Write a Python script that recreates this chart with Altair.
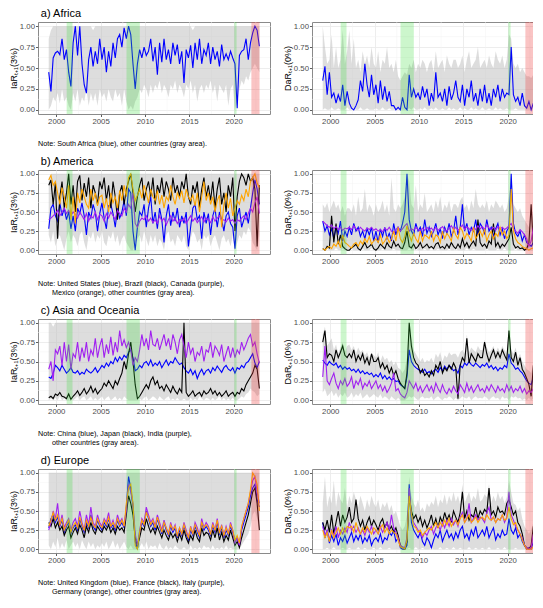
import altair as alt
import pandas as pd

FONT = "Liberation Sans, Arial, Helvetica, sans-serif"

# quarterly sampling, values in percent
T0 = 1999.15
STEP = 0.25

X_TICKS = [2000, 2005, 2010, 2015, 2020]
X_MINOR = [2002.5, 2007.5, 2012.5, 2017.5, 2022.5]
Y_TICKS = [0, 0.25, 0.5, 0.75, 1]
Y_MINOR = [0.125, 0.375, 0.625, 0.875]

GREEN_START = [2001.17, 2007.92, 2020.08]
GREEN_END = [2001.83, 2009.42, 2020.33]
RED_START = [2022.0]
RED_END = [2022.92]

# ---------------- Africa ----------------
AF_IAR_ZA = [
    45, 22, 62, 68, 70, 66, 85, 60, 72, 45, 28, 80,
    100, 65, 100, 55, 30, 20, 60, 75, 52, 70, 55, 85,
    60, 75, 45, 70, 52, 80, 62, 85, 90, 75, 98, 85,
    100, 90, 55, 25, 55, 72, 62, 75, 65, 70, 85, 58,
    75, 42, 80, 57, 85, 60, 72, 55, 80, 65, 78, 55,
    70, 32, 72, 62, 77, 50, 80, 60, 85, 55, 72, 65,
    80, 55, 75, 60, 70, 52, 78, 60, 67, 60, 70, 62,
    55, 2, 65, 70, 72, 85, 60, 80, 92, 100, 95, 76,
]
AF_IAR_LO = [
    0, 5, 15, 10, 20, 8, 25, 10, 15, 5, 0, 20,
    10, 25, 5, 15, 10, 25, 5, 20, 10, 20, 5, 25,
    15, 20, 10, 25, 15, 10, 25, 15, 20, 5, 25, 10,
    0, 5, 0, 10, 15, 25, 20, 30, 25, 15, 30, 20,
    30, 25, 35, 20, 30, 25, 15, 30, 25, 35, 20, 30,
    25, 15, 30, 25, 35, 20, 30, 10, 25, 30, 20, 30,
    25, 35, 20, 30, 10, 30, 25, 20, 30, 5, 25, 30,
    0, 10, 25, 35, 30, 40, 35, 45, 50, 55, 50, 45,
]
AF_IAR_HI = [
    85, 95, 100, 100, 100, 100, 100, 100, 100, 100, 100, 100,
    100, 100, 100, 100, 100, 100, 100, 100, 95, 100, 100, 100,
    100, 100, 100, 100, 100, 100, 100, 100, 100, 100, 100, 100,
    100, 100, 100, 100, 100, 100, 100, 100, 100, 100, 100, 100,
    100, 100, 100, 100, 100, 100, 100, 100, 100, 100, 100, 100,
    100, 100, 100, 100, 100, 95, 100, 100, 100, 100, 100, 100,
    100, 100, 100, 100, 100, 100, 100, 100, 100, 100, 100, 100,
    100, 100, 100, 100, 100, 100, 100, 100, 100, 100, 100, 100,
]
AF_DAR_ZA = [
    35, 52, 18, 45, 15, 20, 8, 18, 10, 30, 5, 22,
    8, 2, 0, 5, 12, 35, 22, 55, 30, 15, 42, 18,
    30, 8, 35, 12, 28, 10, 22, 5, 5, 0, 3, 0,
    15, 3, 0, 42, 15, 25, 15, 20, 12, 28, 15, 25,
    5, 20, 10, 45, 15, 20, 10, 25, 5, 28, 12, 20,
    35, 15, 10, 30, 5, 25, 15, 35, 10, 20, 5, 25,
    10, 30, 8, 20, 5, 25, 15, 30, 10, 25, 15, 20,
    18, 75, 18, 10, 15, 5, 20, 5, 2, 10, 0, 8,
]
AF_DAR_LO = [
    0, 2, 0, 0, 3, 0, 0, 2, 0, 0, 0, 3,
    0, 0, 2, 0, 0, 3, 0, 0, 2, 0, 0, 0,
    2, 0, 0, 3, 0, 0, 2, 0, 0, 0, 0, 0,
    0, 0, 0, 2, 0, 3, 0, 0, 2, 0, 3, 0,
    0, 2, 0, 3, 0, 0, 2, 0, 0, 3, 0, 2,
    0, 0, 3, 0, 2, 0, 0, 3, 0, 2, 0, 0,
    3, 0, 0, 2, 0, 0, 3, 0, 2, 0, 0, 2,
    0, 0, 0, 2, 0, 0, 0, 0, 0, 0, 0, 0,
]
AF_DAR_HI = [
    100, 75, 55, 60, 90, 50, 75, 50, 60, 95, 55, 70,
    95, 55, 85, 50, 60, 45, 70, 55, 65, 50, 75, 55,
    50, 70, 45, 60, 55, 75, 50, 55, 45, 60, 40, 35,
    40, 45, 42, 55, 50, 60, 45, 55, 50, 60, 55, 45,
    55, 60, 45, 70, 50, 55, 60, 45, 65, 55, 50, 60,
    60, 50, 55, 65, 45, 60, 70, 50, 55, 60, 75, 50,
    55, 60, 50, 65, 55, 50, 70, 60, 55, 65, 50, 60,
    90, 85, 55, 50, 55, 45, 50, 45, 40, 40, 38, 42,
]

# ---------------- America ----------------
AM_IAR_US = [
    28, 55, 60, 45, 38, 62, 45, 55, 40, 50, 28, 45,
    25, 55, 48, 62, 45, 20, 50, 42, 60, 50, 25, 48,
    62, 42, 28, 58, 60, 48, 30, 55, 42, 50, 65, 45,
    80, 75, 25, 0, 30, 50, 45, 60, 30, 55, 70, 35,
    50, 28, 55, 40, 10, 45, 60, 32, 50, 38, 55, 30,
    45, 35, 50, 5, 30, 55, 60, 40, 45, 15, 50, 35,
    48, 20, 45, 55, 30, 50, 40, 25, 45, 50, 35, 30,
    2, 45, 55, 30, 40, 50, 35, 55, 75, 92, 80, 60,
]
AM_IAR_BR = [
    85, 92, 60, 88, 15, 70, 90, 55, 75, 100, 60, 85,
    50, 90, 98, 65, 88, 70, 95, 55, 85, 75, 60, 90,
    80, 95, 65, 85, 55, 90, 70, 40, 75, 85, 60, 80,
    90, 100, 75, 50, 70, 85, 95, 65, 80, 90, 70, 95,
    60, 85, 75, 95, 70, 90, 80, 65, 95, 75, 85, 70,
    90, 80, 100, 70, 60, 85, 75, 90, 55, 80, 95, 70,
    85, 65, 90, 55, 80, 95, 60, 75, 50, 85, 70, 95,
    25, 70, 90, 100, 95, 85, 100, 90, 95, 80, 5, 85,
]
AM_IAR_CA = [
    40, 42, 45, 48, 52, 45, 50, 55, 48, 52, 45, 50,
    47, 42, 50, 45, 40, 48, 38, 45, 42, 50, 40, 47,
    45, 38, 48, 42, 50, 45, 40, 52, 48, 45, 55, 50,
    60, 55, 75, 35, 30, 38, 42, 40, 45, 38, 42, 36,
    40, 35, 45, 38, 42, 33, 40, 45, 38, 42, 35, 40,
    38, 42, 35, 40, 45, 38, 42, 36, 40, 44, 37, 42,
    40, 36, 44, 38, 42, 45, 38, 40, 37, 42, 38, 40,
    35, 40, 38, 42, 45, 40, 48, 55, 50, 62, 70, 48,
]
AM_IAR_MX = [
    92, 98, 85, 90, 75, 60, 82, 70, 55, 85, 40, 70,
    35, 75, 62, 80, 70, 60, 55, 80, 65, 75, 58, 70,
    72, 55, 68, 50, 75, 62, 70, 55, 78, 65, 85, 70,
    95, 100, 80, 65, 72, 80, 68, 85, 75, 62, 80, 70,
    65, 78, 60, 72, 55, 70, 65, 85, 70, 60, 75, 68,
    78, 62, 80, 70, 65, 72, 58, 75, 50, 70, 90, 65,
    75, 60, 70, 50, 65, 72, 30, 60, 75, 55, 68, 45,
    55, 65, 60, 72, 65, 80, 70, 90, 95, 100, 88, 82,
]
AM_IAR_LO = [
    20, 10, 25, 5, 15, 20, 10, 0, 15, 25, 10, 20,
    15, 5, 20, 25, 10, 0, 20, 15, 25, 10, 20, 15,
    25, 10, 5, 20, 15, 25, 10, 20, 5, 15, 20, 10,
    5, 0, 0, 10, 15, 20, 10, 25, 15, 5, 20, 10,
    20, 5, 15, 10, 0, 20, 25, 10, 15, 5, 20, 15,
    10, 20, 5, 0, 15, 25, 20, 10, 15, 0, 20, 15,
    20, 5, 15, 20, 10, 0, 15, 20, 10, 15, 5, 20,
    0, 10, 20, 15, 25, 20, 30, 25, 10, 5, 0, 20,
]
AM_IAR_HI = [
    95, 100, 100, 100, 100, 100, 100, 100, 100, 100, 100, 100,
    100, 100, 100, 100, 100, 100, 100, 100, 100, 100, 100, 100,
    100, 100, 100, 100, 100, 100, 100, 100, 100, 100, 100, 100,
    100, 100, 100, 100, 100, 100, 100, 100, 100, 100, 100, 100,
    100, 100, 100, 100, 100, 100, 100, 100, 100, 100, 100, 100,
    100, 100, 100, 100, 100, 100, 100, 100, 100, 100, 100, 100,
    100, 100, 100, 100, 100, 100, 100, 100, 100, 100, 100, 100,
    100, 100, 100, 100, 100, 100, 100, 100, 100, 100, 100, 100,
]
AM_DAR_US = [
    38, 25, 32, 20, 28, 15, 30, 22, 38, 12, 25, 18,
    30, 20, 35, 25, 30, 18, 25, 15, 28, 20, 30, 12,
    25, 10, 28, 18, 30, 15, 22, 12, 35, 20, 30, 25,
    35, 50, 100, 40, 25, 20, 35, 25, 30, 18, 40, 22,
    30, 18, 25, 35, 20, 28, 15, 30, 22, 35, 18, 25,
    45, 20, 30, 60, 25, 35, 20, 30, 25, 40, 20, 35,
    30, 22, 40, 25, 30, 18, 28, 35, 20, 28, 15, 25,
    30, 100, 35, 22, 18, 25, 12, 20, 10, 8, 5, 10,
]
AM_DAR_BR = [
    2, 0, 5, 3, 45, 10, 35, 8, 20, 5, 2, 0,
    0, 3, 5, 8, 2, 0, 5, 10, 3, 5, 8, 2,
    0, 3, 8, 5, 2, 10, 5, 3, 12, 5, 8, 3,
    2, 10, 25, 5, 3, 8, 2, 5, 10, 3, 5, 8,
    3, 5, 2, 8, 10, 3, 5, 2, 8, 3, 10, 5,
    2, 8, 3, 15, 5, 10, 3, 8, 12, 5, 40, 10,
    5, 8, 3, 12, 8, 35, 5, 10, 3, 8, 5, 10,
    15, 30, 8, 3, 5, 2, 3, 0, 2, 10, 60, 5,
]
AM_DAR_CA = [
    38, 35, 32, 30, 33, 28, 31, 27, 30, 26, 29, 28,
    30, 27, 32, 28, 26, 30, 27, 25, 29, 27, 30, 26,
    28, 25, 27, 24, 29, 26, 30, 25, 22, 27, 30, 25,
    28, 32, 35, 25, 28, 26, 30, 27, 25, 29, 26, 30,
    27, 29, 25, 30, 26, 28, 31, 27, 25, 29, 32, 27,
    30, 26, 29, 33, 27, 31, 28, 26, 30, 27, 32, 28,
    31, 27, 33, 29, 27, 30, 26, 31, 28, 30, 27, 29,
    32, 35, 28, 25, 22, 27, 24, 20, 15, 5, 12, 30,
]
AM_DAR_MX = [
    2, 0, 3, 5, 2, 8, 5, 12, 3, 20, 10, 8,
    5, 3, 8, 10, 5, 12, 8, 15, 10, 18, 8, 12,
    15, 10, 20, 8, 12, 18, 10, 15, 25, 12, 30, 15,
    10, 18, 32, 20, 12, 22, 15, 10, 25, 12, 20, 18,
    15, 25, 12, 20, 18, 10, 25, 15, 22, 18, 12, 28,
    20, 15, 30, 25, 15, 22, 18, 12, 30, 15, 20, 25,
    18, 28, 12, 20, 25, 15, 22, 18, 30, 20, 25, 15,
    20, 80, 25, 15, 10, 8, 5, 3, 2, 0, 2, 3,
]
AM_DAR_LO = [
    0, 0, 2, 0, 0, 0, 3, 0, 0, 2, 0, 0,
    0, 2, 0, 0, 0, 0, 2, 0, 0, 0, 3, 0,
    0, 0, 0, 2, 0, 0, 0, 0, 2, 0, 0, 0,
    0, 0, 0, 3, 0, 0, 2, 0, 0, 0, 2, 0,
    0, 3, 0, 0, 2, 0, 0, 0, 0, 2, 0, 0,
    2, 0, 0, 0, 0, 3, 0, 0, 2, 0, 0, 0,
    0, 0, 2, 0, 0, 0, 0, 2, 0, 0, 3, 0,
    0, 0, 0, 2, 0, 0, 0, 0, 0, 0, 0, 0,
]
AM_DAR_HI = [
    60, 55, 62, 50, 58, 65, 55, 60, 50, 58, 45, 55,
    55, 50, 60, 45, 70, 50, 55, 80, 50, 60, 55, 45,
    60, 50, 55, 65, 50, 60, 45, 95, 55, 50, 60, 55,
    60, 70, 100, 90, 60, 55, 85, 50, 60, 55, 75, 50,
    55, 60, 50, 65, 55, 70, 50, 60, 55, 65, 50, 60,
    60, 55, 65, 70, 55, 60, 50, 65, 55, 80, 60, 55,
    60, 55, 65, 50, 60, 55, 65, 60, 55, 60, 50, 55,
    70, 100, 60, 55, 50, 55, 45, 40, 35, 30, 55, 40,
]

# ---------------- Asia and Oceania ----------------
AS_IAR_CN = [
    30, 28, 35, 45, 42, 38, 45, 40, 35, 38, 42, 36,
    35, 38, 33, 36, 34, 40, 37, 35, 38, 42, 36, 40,
    45, 42, 48, 44, 50, 47, 55, 50, 56, 52, 58, 55,
    62, 65, 55, 38, 40, 45, 42, 48, 50, 45, 52, 44,
    48, 45, 50, 42, 47, 52, 45, 50, 48, 55, 50, 46,
    48, 42, 38, 35, 40, 33, 38, 28, 35, 40, 33, 38,
    40, 35, 42, 38, 44, 40, 36, 42, 45, 40, 38, 42,
    35, 42, 40, 45, 42, 48, 50, 55, 60, 48, 42, 50,
]
AS_IAR_JP = [
    3, 5, 2, 8, 6, 10, 5, 4, 2, 8, 1, 5,
    8, 12, 6, 10, 15, 8, 12, 18, 10, 15, 8, 12,
    15, 22, 18, 25, 20, 15, 25, 20, 28, 35, 50, 40,
    60, 75, 50, 20, 2, 5, 10, 15, 20, 15, 25, 30,
    20, 25, 15, 18, 12, 20, 15, 10, 18, 12, 8, 15,
    10, 100, 10, 5, 8, 12, 5, 8, 10, 5, 12, 8,
    10, 15, 8, 12, 6, 10, 5, 8, 12, 5, 8, 10,
    5, 10, 8, 15, 12, 20, 25, 30, 35, 45, 40, 15,
]
AS_IAR_IN = [
    40, 50, 25, 65, 60, 70, 45, 75, 50, 72, 40, 60,
    55, 75, 50, 68, 55, 75, 50, 65, 58, 80, 55, 70,
    80, 55, 72, 60, 82, 58, 75, 62, 90, 70, 78, 68,
    75, 65, 45, 55, 50, 65, 85, 70, 80, 65, 90, 72,
    70, 80, 65, 75, 85, 70, 80, 65, 85, 75, 60, 78,
    85, 70, 55, 75, 60, 68, 50, 62, 58, 70, 50, 65,
    62, 75, 55, 70, 65, 58, 72, 50, 60, 70, 55, 68,
    55, 65, 60, 75, 65, 72, 80, 85, 70, 75, 60, 48,
]
AS_IAR_LO = [
    0, 2, 0, 3, 0, 5, 0, 2, 0, 0, 3, 0,
    2, 5, 0, 3, 5, 0, 2, 5, 0, 3, 0, 2,
    5, 0, 3, 5, 0, 2, 5, 0, 3, 0, 5, 2,
    0, 0, 0, 0, 0, 2, 0, 3, 5, 0, 2, 5,
    3, 0, 5, 2, 0, 3, 5, 0, 2, 0, 3, 0,
    0, 2, 0, 0, 3, 0, 2, 0, 5, 2, 0, 3,
    2, 0, 3, 0, 2, 5, 0, 3, 0, 2, 0, 3,
    0, 0, 2, 5, 3, 8, 10, 15, 12, 10, 5, 8,
]
AS_IAR_HI = [
    100, 100, 95, 100, 100, 100, 100, 100, 100, 100, 100, 100,
    100, 100, 100, 100, 100, 100, 100, 100, 100, 100, 100, 100,
    100, 100, 100, 100, 100, 100, 100, 100, 100, 100, 100, 100,
    100, 100, 100, 100, 100, 100, 100, 100, 100, 100, 100, 100,
    100, 100, 100, 100, 100, 100, 100, 100, 100, 100, 100, 100,
    100, 100, 100, 100, 100, 100, 100, 100, 100, 100, 100, 100,
    100, 100, 100, 100, 100, 100, 100, 100, 100, 100, 100, 100,
    100, 100, 100, 100, 100, 100, 100, 100, 100, 100, 100, 100,
]
AS_DAR_CN = [
    52, 48, 45, 50, 47, 45, 48, 42, 45, 40, 43, 40,
    42, 38, 40, 36, 40, 35, 38, 34, 36, 33, 35, 30,
    33, 30, 35, 28, 32, 27, 30, 26, 28, 24, 25, 20,
    18, 15, 30, 65, 50, 45, 42, 40, 38, 36, 40, 35,
    37, 34, 38, 40, 36, 42, 38, 44, 40, 45, 42, 38,
    40, 35, 45, 42, 48, 45, 50, 46, 44, 48, 45, 42,
    46, 44, 48, 42, 45, 40, 43, 38, 42, 40, 45, 42,
    60, 48, 45, 40, 42, 38, 35, 30, 25, 22, 20, 30,
]
AS_DAR_JP = [
    75, 90, 55, 60, 58, 50, 65, 55, 62, 70, 58, 55,
    60, 55, 65, 50, 58, 52, 60, 48, 55, 45, 60, 50,
    50, 55, 42, 48, 40, 45, 35, 42, 32, 38, 28, 22,
    18, 15, 35, 100, 70, 55, 48, 45, 35, 40, 32, 35,
    30, 38, 32, 45, 40, 50, 35, 42, 38, 45, 40, 48,
    42, 2, 45, 55, 50, 80, 48, 60, 55, 50, 60, 55,
    55, 75, 60, 50, 58, 65, 55, 62, 55, 65, 58, 52,
    90, 55, 50, 62, 45, 55, 40, 35, 28, 20, 5, 45,
]
AS_DAR_IN = [
    30, 70, 25, 20, 28, 35, 22, 15, 25, 20, 28, 18,
    22, 30, 15, 25, 20, 28, 15, 22, 18, 25, 15, 20,
    25, 15, 20, 12, 18, 10, 15, 22, 35, 12, 15, 8,
    5, 3, 10, 25, 20, 15, 22, 12, 18, 10, 15, 20,
    12, 18, 10, 22, 15, 10, 20, 12, 8, 15, 10, 18,
    12, 8, 20, 15, 10, 22, 12, 18, 10, 15, 20, 12,
    15, 10, 18, 12, 20, 15, 10, 18, 12, 15, 10, 20,
    12, 18, 10, 15, 12, 18, 10, 15, 8, 12, 10, 15,
]
AS_DAR_LO = [
    10, 15, 5, 8, 12, 5, 10, 3, 8, 5, 10, 3,
    5, 10, 3, 8, 5, 10, 2, 5, 8, 3, 5, 8,
    5, 3, 8, 2, 5, 3, 0, 5, 2, 0, 3, 0,
    0, 0, 2, 5, 3, 5, 2, 0, 3, 5, 2, 3,
    2, 5, 0, 3, 5, 2, 0, 3, 2, 5, 3, 0,
    3, 0, 2, 5, 3, 2, 5, 0, 3, 5, 2, 3,
    2, 5, 3, 0, 3, 5, 2, 3, 0, 5, 2, 3,
    0, 5, 3, 5, 2, 3, 0, 2, 0, 3, 0, 2,
]
AS_DAR_HI = [
    85, 95, 70, 75, 80, 65, 72, 60, 68, 75, 62, 70,
    72, 65, 70, 60, 68, 62, 65, 58, 62, 55, 60, 58,
    55, 62, 50, 58, 52, 55, 48, 52, 45, 50, 42, 40,
    35, 40, 55, 100, 80, 65, 60, 55, 50, 55, 48, 52,
    50, 55, 48, 60, 55, 62, 50, 58, 55, 62, 58, 60,
    60, 55, 62, 65, 60, 85, 62, 68, 65, 62, 70, 65,
    65, 78, 68, 62, 65, 70, 62, 68, 62, 70, 65, 60,
    95, 65, 60, 68, 55, 60, 50, 45, 40, 38, 35, 45,
]

# ---------------- Europe ----------------
EU_IAR_UK = [
    28, 40, 45, 35, 42, 30, 38, 22, 30, 35, 20, 28,
    32, 25, 40, 30, 22, 35, 28, 45, 30, 25, 38, 30,
    25, 35, 30, 40, 28, 32, 25, 38, 30, 35, 28, 55,
    95, 80, 55, 10, 0, 20, 35, 30, 50, 40, 30, 35,
    25, 40, 30, 20, 35, 25, 18, 30, 22, 28, 15, 25,
    18, 30, 20, 12, 25, 18, 30, 22, 15, 35, 25, 30,
    25, 18, 30, 22, 35, 20, 28, 15, 25, 18, 30, 22,
    10, 15, 5, 25, 35, 45, 55, 70, 80, 85, 65, 55,
]
EU_IAR_FR = [
    35, 30, 40, 28, 35, 25, 30, 18, 25, 30, 15, 22,
    28, 20, 32, 25, 15, 30, 22, 35, 25, 20, 30, 25,
    22, 30, 25, 32, 22, 28, 20, 30, 25, 28, 22, 45,
    70, 60, 45, 15, 5, 15, 28, 25, 40, 30, 22, 28,
    20, 30, 22, 15, 25, 18, 12, 22, 15, 20, 10, 20,
    12, 25, 15, 8, 18, 12, 25, 15, 10, 28, 18, 22,
    20, 12, 25, 15, 28, 12, 22, 10, 18, 12, 25, 15,
    5, 10, 2, 15, 25, 35, 45, 60, 75, 80, 60, 25,
]
EU_IAR_IT = [
    25, 35, 50, 40, 60, 30, 45, 28, 35, 40, 25, 35,
    40, 30, 50, 35, 25, 45, 32, 55, 35, 30, 45, 35,
    30, 40, 35, 48, 30, 38, 28, 45, 35, 40, 30, 50,
    85, 75, 60, 20, 5, 25, 40, 35, 55, 45, 35, 40,
    30, 45, 35, 25, 38, 28, 20, 35, 25, 32, 18, 28,
    20, 35, 25, 15, 30, 20, 35, 28, 18, 40, 28, 35,
    30, 20, 35, 25, 40, 22, 32, 18, 30, 20, 35, 25,
    8, 15, 5, 28, 40, 50, 60, 75, 90, 95, 75, 60,
]
EU_IAR_DE = [
    30, 38, 48, 38, 45, 32, 40, 25, 32, 38, 22, 30,
    35, 28, 42, 32, 25, 38, 30, 42, 32, 28, 40, 32,
    28, 38, 32, 42, 30, 35, 28, 40, 32, 38, 30, 60,
    80, 85, 60, 5, 0, 22, 38, 32, 48, 42, 32, 38,
    28, 42, 32, 22, 35, 28, 20, 32, 25, 30, 18, 28,
    20, 32, 22, 15, 28, 20, 32, 25, 18, 35, 28, 32,
    28, 20, 32, 25, 38, 22, 30, 18, 28, 20, 32, 25,
    12, 18, 8, 30, 40, 50, 60, 78, 100, 95, 85, 50,
]
EU_IAR_LO = [
    5, 0, 10, 3, 15, 0, 8, 2, 12, 0, 5, 10,
    3, 8, 0, 12, 5, 0, 10, 3, 8, 0, 5, 2,
    8, 3, 10, 0, 5, 12, 2, 8, 0, 5, 10, 3,
    0, 5, 0, 0, 0, 3, 8, 2, 10, 0, 5, 3,
    5, 0, 8, 2, 0, 5, 0, 3, 0, 5, 2, 0,
    0, 3, 0, 0, 5, 0, 2, 0, 3, 0, 5, 2,
    3, 0, 5, 0, 2, 0, 3, 0, 5, 0, 2, 0,
    0, 0, 0, 5, 10, 15, 20, 30, 45, 50, 40, 25,
]
EU_IAR_HI = [
    100, 100, 100, 100, 100, 100, 100, 100, 100, 100, 100, 100,
    100, 100, 100, 100, 100, 100, 100, 100, 100, 100, 100, 100,
    100, 100, 100, 100, 100, 100, 100, 100, 100, 100, 100, 100,
    100, 100, 100, 100, 100, 100, 100, 100, 100, 100, 100, 100,
    100, 100, 100, 100, 100, 100, 100, 100, 100, 100, 100, 100,
    100, 100, 100, 100, 100, 100, 100, 100, 100, 100, 100, 100,
    100, 100, 100, 100, 100, 100, 100, 100, 100, 100, 100, 100,
    100, 100, 100, 100, 100, 100, 100, 100, 100, 100, 100, 100,
]
EU_DAR_UK = [
    35, 15, 25, 8, 18, 10, 20, 5, 15, 10, 18, 8,
    15, 22, 10, 18, 12, 20, 8, 15, 10, 18, 5, 12,
    15, 10, 20, 8, 15, 12, 22, 18, 25, 10, 15, 2,
    0, 0, 5, 85, 35, 25, 20, 15, 22, 10, 5, 15,
    10, 2, 12, 20, 15, 25, 10, 18, 25, 15, 20, 12,
    22, 15, 25, 30, 15, 20, 12, 25, 18, 30, 15, 20,
    25, 18, 30, 15, 22, 28, 12, 20, 15, 25, 18, 20,
    40, 25, 20, 28, 15, 20, 10, 5, 0, 2, 0, 10,
]
EU_DAR_FR = [
    35, 25, 38, 22, 45, 20, 35, 50, 30, 45, 35, 42,
    55, 35, 40, 65, 40, 30, 38, 25, 35, 42, 30, 38,
    32, 25, 35, 40, 28, 35, 25, 30, 22, 28, 18, 5,
    2, 0, 10, 70, 50, 40, 45, 35, 42, 30, 38, 28,
    35, 45, 30, 40, 28, 42, 35, 48, 38, 45, 35, 50,
    42, 35, 48, 75, 40, 50, 38, 45, 42, 55, 40, 50,
    45, 52, 48, 80, 45, 50, 42, 55, 48, 50, 45, 60,
    65, 55, 45, 50, 35, 30, 20, 5, 2, 0, 5, 30,
]
EU_DAR_IT = [
    30, 18, 25, 12, 25, 18, 30, 15, 25, 20, 28, 22,
    35, 25, 30, 22, 28, 20, 25, 18, 28, 22, 30, 20,
    25, 20, 30, 22, 28, 35, 25, 45, 28, 22, 15, 5,
    3, 2, 15, 80, 45, 35, 30, 25, 20, 15, 22, 18,
    25, 30, 20, 28, 32, 25, 35, 28, 38, 30, 40, 32,
    38, 30, 42, 48, 35, 40, 60, 35, 40, 45, 38, 42,
    40, 35, 48, 55, 38, 42, 35, 40, 38, 45, 35, 42,
    75, 45, 38, 30, 25, 20, 15, 5, 2, 0, 2, 20,
]
EU_DAR_DE = [
    25, 15, 22, 10, 25, 15, 22, 28, 20, 28, 22, 30,
    28, 30, 22, 35, 25, 20, 28, 22, 30, 25, 20, 28,
    25, 20, 28, 32, 22, 28, 20, 25, 22, 20, 12, 3,
    2, 0, 12, 70, 45, 30, 28, 22, 25, 18, 22, 25,
    28, 25, 30, 35, 28, 35, 30, 38, 32, 40, 30, 35,
    38, 32, 40, 45, 35, 40, 45, 35, 38, 42, 35, 40,
    42, 38, 45, 40, 38, 42, 35, 40, 38, 45, 38, 40,
    55, 40, 32, 35, 25, 20, 12, 5, 0, 0, 0, 3,
]
EU_DAR_LO = [
    0, 0, 2, 0, 0, 3, 0, 0, 0, 2, 0, 0,
    2, 0, 0, 0, 3, 0, 0, 2, 0, 0, 0, 2,
    0, 0, 3, 0, 0, 0, 2, 0, 0, 0, 0, 0,
    0, 0, 0, 2, 0, 0, 3, 0, 0, 2, 0, 0,
    0, 2, 0, 0, 0, 3, 0, 0, 2, 0, 0, 3,
    0, 0, 2, 0, 0, 0, 3, 0, 0, 2, 0, 0,
    2, 0, 0, 3, 0, 0, 0, 2, 0, 0, 3, 0,
    0, 0, 0, 2, 0, 0, 0, 0, 0, 0, 0, 0,
]
EU_DAR_HI = [
    60, 95, 55, 70, 60, 90, 55, 75, 65, 60, 80, 55,
    70, 60, 75, 65, 55, 70, 60, 50, 65, 55, 70, 60,
    55, 65, 50, 60, 55, 62, 50, 58, 45, 50, 40, 30,
    25, 30, 45, 95, 70, 60, 55, 65, 50, 55, 48, 60,
    55, 62, 58, 70, 55, 65, 60, 72, 58, 70, 62, 75,
    62, 70, 58, 85, 60, 68, 75, 62, 70, 65, 80, 62,
    65, 72, 68, 85, 60, 70, 62, 75, 65, 70, 60, 68,
    90, 75, 60, 58, 50, 55, 40, 30, 25, 20, 25, 35,
]

BLUE, BLACK, PURPLE, ORANGE = "#0000ff", "#000000", "#a020f0", "#ffa500"

W = 232
X_DOMAIN = [1997.94, 2024.1]
Y_DOMAIN = [-0.05, 1.05]
IAR_TITLE = "IaR\u209c\u208a\u2081(3%)"
DAR_TITLE = "DaR\u209c\u208a\u2081(0%)"


def times(n):
    return [T0 + STEP * i for i in range(n)]


def series_frame(vals):
    return pd.DataFrame({"t": times(len(vals)), "v": [v / 100 for v in vals]})


def band_frame(lo, hi):
    n = min(len(lo), len(hi))
    return pd.DataFrame({
        "t": times(n),
        "lo": [v / 100 for v in lo[:n]],
        "hi": [v / 100 for v in hi[:n]],
    })


def panel(lines, lo, hi, ytitle, h, notes=()):
    x_axis = alt.Axis(values=X_TICKS, format="d", title=None, grid=True)
    y_axis = alt.Axis(values=Y_TICKS, format=".2f", title=ytitle, grid=True)
    x_scale = alt.Scale(domain=X_DOMAIN, nice=False, zero=False)
    y_scale = alt.Scale(domain=Y_DOMAIN, nice=False, zero=False)

    def xs(field):
        return alt.X(field, scale=x_scale, axis=x_axis)

    def ys(field):
        return alt.Y(field, scale=y_scale, axis=y_axis)

    layers = [
        alt.Chart(pd.DataFrame({"m": X_MINOR}))
        .mark_rule(color="#f2f2f2", strokeWidth=0.5)
        .encode(x=xs("m:Q"), y=alt.value(0), y2=alt.value(h)),
        alt.Chart(pd.DataFrame({"m": Y_MINOR}))
        .mark_rule(color="#f2f2f2", strokeWidth=0.5)
        .encode(y=ys("m:Q"), x=alt.value(0), x2=alt.value(W)),
        alt.Chart(band_frame(lo, hi))
        .mark_area(color="#bbbbbb", opacity=0.5)
        .encode(x=xs("t:Q"), y=ys("lo:Q"), y2="hi:Q"),
    ]
    for vals, color in lines:
        layers.append(
            alt.Chart(series_frame(vals))
            .mark_line(color=color, strokeWidth=1.1)
            .encode(x=xs("t:Q"), y=ys("v:Q"))
        )
    layers.append(
        alt.Chart(pd.DataFrame({"s": GREEN_START, "e": GREEN_END}))
        .mark_rect(color="#33dd33", opacity=0.25)
        .encode(x=xs("s:Q"), x2="e:Q", y=alt.value(0), y2=alt.value(h))
    )
    layers.append(
        alt.Chart(pd.DataFrame({"s": RED_START, "e": RED_END}))
        .mark_rect(color="#f03c3c", opacity=0.3)
        .encode(x=xs("s:Q"), x2="e:Q", y=alt.value(0), y2=alt.value(h))
    )
    for k, line in enumerate(notes):
        layers.append(
            alt.Chart(pd.DataFrame({"note": [line]}))
            .mark_text(align="left", baseline="middle", fontSize=7.2, color="black")
            .encode(text="note:N", x=alt.value(0 if k == 0 else 14), y=alt.value(h + 30 + 9 * k))
        )
    return alt.layer(*layers).properties(width=W, height=h)


def row(title, left, right):
    return alt.hconcat(
        left, right, spacing=11,
        title=alt.TitleParams(title, anchor="start", dx=32, offset=2, fontSize=11,
                              fontWeight="normal", color="black"),
    )


rows = [
    row("a) Africa",
        panel([(AF_IAR_ZA, BLUE)], AF_IAR_LO, AF_IAR_HI, IAR_TITLE, 92,
              ["Note: South Africa (blue), other countries (gray area)."]),
        panel([(AF_DAR_ZA, BLUE)], AF_DAR_LO, AF_DAR_HI, DAR_TITLE, 92)),
    row("b) America",
        panel([(AM_IAR_US, BLUE), (AM_IAR_BR, BLACK), (AM_IAR_CA, PURPLE), (AM_IAR_MX, ORANGE)],
              AM_IAR_LO, AM_IAR_HI, IAR_TITLE, 84,
              ["Note: United States (blue), Brazil (black), Canada (purple),",
               "Mexico (orange), other countries (gray area)."]),
        panel([(AM_DAR_US, BLUE), (AM_DAR_BR, BLACK), (AM_DAR_CA, PURPLE), (AM_DAR_MX, ORANGE)],
              AM_DAR_LO, AM_DAR_HI, DAR_TITLE, 84)),
    row("c) Asia and Oceania",
        panel([(AS_IAR_CN, BLUE), (AS_IAR_JP, BLACK), (AS_IAR_IN, PURPLE)],
              AS_IAR_LO, AS_IAR_HI, IAR_TITLE, 85,
              ["Note: China (blue), Japan (black), India (purple),",
               "other countries (gray area)."]),
        panel([(AS_DAR_CN, BLUE), (AS_DAR_JP, BLACK), (AS_DAR_IN, PURPLE)],
              AS_DAR_LO, AS_DAR_HI, DAR_TITLE, 85)),
    row("d) Europe",
        panel([(EU_IAR_UK, BLUE), (EU_IAR_FR, BLACK), (EU_IAR_IT, PURPLE), (EU_IAR_DE, ORANGE)],
              EU_IAR_LO, EU_IAR_HI, IAR_TITLE, 84,
              ["Note: United Kingdom (blue), France (black), Italy (purple),",
               "Germany (orange), other countries (gray area)."]),
        panel([(EU_DAR_UK, BLUE), (EU_DAR_FR, BLACK), (EU_DAR_IT, PURPLE), (EU_DAR_DE, ORANGE)],
              EU_DAR_LO, EU_DAR_HI, DAR_TITLE, 84)),
]

chart = (
    alt.vconcat(*rows, spacing=8)
    # the right panel runs past the page edge, as in the cropped original
    .properties(padding={"left": 0, "top": 0, "right": -12, "bottom": 0})
    .configure(font=FONT)
    .configure_view(stroke="#8a8a8a", strokeWidth=1)
    .configure_axis(
        labelFontSize=7.8, labelColor="#4d4d4d", labelPadding=1,
        tickColor="#333333", tickSize=2.5, tickWidth=0.8, domain=False,
        gridColor="#ebebeb", gridWidth=0.9,
        titleFontSize=9, titleFontWeight="normal", titleColor="black", titlePadding=1,
    )
    .configure_title(font=FONT, color="black")
)

chart.save("out.html", embed_options={"renderer": "svg", "actions": False})
